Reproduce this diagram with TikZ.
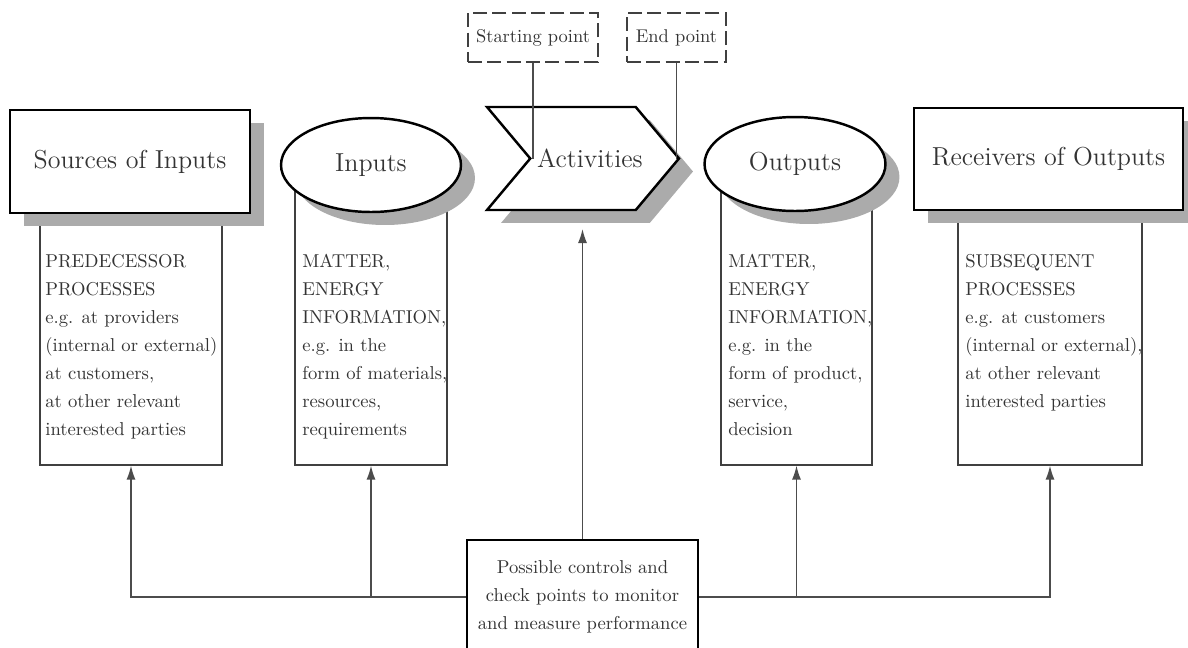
\documentclass[tikz,border=0pt]{standalone}
\usepackage{tikz}
\usetikzlibrary{arrows.meta}
\usetikzlibrary{shapes,shapes.geometric,shapes.symbols}
\usetikzlibrary{shadows}
\tikzset{>={Latex[length=2.8mm,width=1.8mm]}}
\tikzset{
  mainbox/.style={draw, line width=1.4pt, fill=white, inner sep=0pt, text=black!80,
    font=\fontsize{14.8}{18}\selectfont,
    drop shadow={shadow xshift=0.28cm, shadow yshift=-0.26cm, fill=black!33, opacity=1}},
  infobox/.style={draw=black!75, line width=0.7pt, inner sep=0pt},
  infotext/.style={anchor=north west, align=left, inner sep=0pt, text=black!80,
    font=\fontsize{10.6}{15.9}\selectfont},
  ctlline/.style={draw=black!70, line width=0.8pt},
  markbox/.style={draw=black!75, dash pattern=on 8pt off 3pt, line width=0.8pt, inner sep=0pt,
    minimum height=0.98cm, text=black!80, font=\fontsize{10.5}{13}\selectfont},
}

\begin{document}
\begin{tikzpicture}[x=0.02cm, y=-0.02cm]
      \clip (0,0) rectangle (1188,647);
      % boxes under the headings
      \node[infobox, minimum width=3.64cm, minimum height=4.8cm] (srcinfo) at (131,345) {};
      \node[infobox, minimum width=3.04cm, minimum height=5.5cm] (inpinfo) at (371,327.5) {};
      \node[infobox, minimum width=3.02cm, minimum height=5.5cm] (outinfo) at (796.5,327.5) {};
      \node[infobox, minimum width=3.68cm, minimum height=4.9cm] (rcvinfo) at (1050,342.5) {};
      \node[infotext] at (45,254) {PREDECESSOR\\PROCESSES\\e.g. at providers\\(internal or external)\\at customers,\\at other relevant\\interested parties};
      \node[infotext] at (302,254) {MATTER,\\ENERGY\\INFORMATION,\\e.g. in the\\form of materials,\\resources,\\requirements};
      \node[infotext] at (728,254) {MATTER,\\ENERGY\\INFORMATION,\\e.g. in the\\form of product,\\service,\\decision};
      \node[infotext] at (965,254) {SUBSEQUENT\\PROCESSES\\e.g. at customers\\(internal or external),\\at other relevant\\interested parties};
      % headings
      \node[mainbox, rectangle, minimum width=4.8cm, minimum height=2.06cm] (src) at (130,161.5) {Sources of Inputs};
      \node[mainbox, ellipse, minimum width=3.6cm, minimum height=1.88cm] (inp) at (371,165) {Inputs};
      \node[mainbox, signal, signal to=east, signal from=west, signal pointer angle=100,
            minimum width=3.72cm, minimum height=2.06cm] (act) at (583,158.5)
            {\hspace*{0.14cm}Activities\hspace*{-0.14cm}};
      \node[mainbox, ellipse, minimum width=3.62cm, minimum height=1.88cm] (out) at (795,164) {Outputs};
      \node[mainbox, rectangle, minimum width=5.38cm, minimum height=2.04cm] (rcv) at (1048.5,159) {Receivers of Outputs};
      % start and end of the activities
      \node[markbox, minimum width=2.6cm] (startpt) at (533,37.5) {Starting point};
      \node[markbox, minimum width=1.98cm] (endpt) at (676.5,37.5) {End point};
      \draw[black!70, line width=0.7pt] (startpt.south) -- (startpt.south |- act.center);
      \draw[black!70, line width=0.7pt] (endpt.south) -- (endpt.south |- act.east);
      % controls
      \node[draw, line width=1.4pt, fill=white, align=center, inner sep=0pt, text=black!80,
            minimum width=4.62cm, minimum height=2.28cm, font=\fontsize{10.6}{15.9}\selectfont]
            (ctl) at (582.5,597) {Possible controls and\\check points to monitor\\and measure performance};
      \coordinate (actin) at (583,229);
      \draw[ctlline,->] (ctl.west) -| (srcinfo.south);
      \draw[ctlline,->] (ctl.east) -| (rcvinfo.south);
      \draw[ctlline,->] (inpinfo.south |- ctl.west) -- (inpinfo.south);
      \draw[ctlline,->] (outinfo.south |- ctl.east) -- (outinfo.south);
      \draw[ctlline,->] (ctl.north) -- (ctl.north |- actin);
\end{tikzpicture}
\end{document}
